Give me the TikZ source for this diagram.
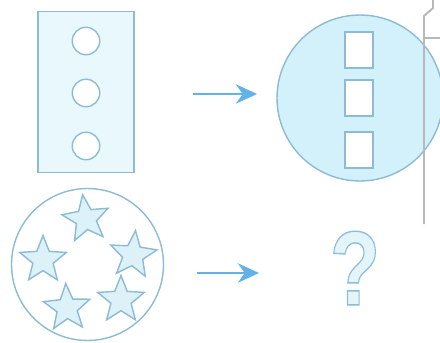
\documentclass[tikz,border=0pt]{standalone}
\usepackage{fontspec}
\newfontfamily\qmarkfont{Liberation Sans}
\usetikzlibrary{shapes.geometric,arrows.meta}

\definecolor{edgeblue}{HTML}{8DBBD3}
\definecolor{paleblue}{HTML}{E8F8FC}
\definecolor{discblue}{HTML}{D3F1FA}
\definecolor{starblue}{HTML}{DCF1F8}
\definecolor{qblue}{HTML}{E4F5FA}
\definecolor{arrowblue}{HTML}{62B2EA}
\definecolor{scangrey}{HTML}{B8B8B8}

% outlined glyph (fill + stroke)
\newcommand{\outlined}[1]{\special{pdf:literal direct 0.55 0.74 0.85 RG 0.8 w 2 Tr}#1\special{pdf:literal direct 0 Tr}}

\begin{document}
\begin{tikzpicture}[x=0.02cm, y=-0.02cm,
    hole/.style={circle, draw=edgeblue, fill=white, minimum size=0.55cm, inner sep=0pt, line width=0.8pt},
    slot/.style={rectangle, draw=edgeblue, fill=white, minimum width=0.56cm, minimum height=0.72cm, inner sep=0pt, line width=0.8pt},
    starmark/.style={star, star points=5, star point ratio=2.3, draw=edgeblue, fill=starblue, minimum size=0.98cm, inner sep=0pt, line width=0.8pt},
    flow/.style={-{Stealth[length=12pt,width=11pt]}, arrowblue, line width=1.7pt}]
    \useasboundingbox (0,0) rectangle (440,342);

    % Top left: panel with holes
    \node[draw=edgeblue, fill=paleblue, minimum width=1.92cm, minimum height=3.22cm, inner sep=0pt, line width=0.8pt] (panel) at (86,92) {};
    \foreach \y [count=\i] in {41,93,146} {
        \node[hole] (hole\i) at (86,\y) {};
    }

    % Top right: disc with slots
    \node[circle, draw=edgeblue, fill=discblue, minimum size=3.32cm, inner sep=0pt, line width=0.8pt] (disc) at (360,98) {};
    \foreach \y [count=\i] in {50,98,150} {
        \node[slot] (slot\i) at (359,\y) {};
    }

    % Bottom left: ring with stars
    \node[circle, draw=edgeblue, fill=white, minimum size=3.04cm, inner sep=0pt, line width=0.8pt] (ring) at (87.5,264.5) {};
    \foreach \x/\y/\r [count=\i] in {86/219/8, 43/260/0, 133/255/-6, 67/308/3, 121/300/0} {
        \node[starmark, rotate=\r] (star\i) at (\x,\y) {};
    }

    % Bottom right: question
    \node[text=qblue, font=\qmarkfont\bfseries\fontsize{60}{60}\selectfont, inner sep=0pt] (query) at (355,268) {\scalebox{0.78}[1]{\outlined{?}}};

    % Arrows
    \coordinate (from1) at (193,94);
    \coordinate (to1) at (257,94);
    \coordinate (from2) at (197,273);
    \coordinate (to2) at (259,273);
    \draw[flow] (from1) -- (to1);
    \draw[flow] (from2) -- (to2);

    % Edge of the next figure
    \draw[scangrey, line width=1.1pt] (433,0) -- (433,8) -- (424,16) -- (424,224);
    \draw[scangrey, line width=1pt] (424,38) -- (440,38);
\end{tikzpicture}
\end{document}
